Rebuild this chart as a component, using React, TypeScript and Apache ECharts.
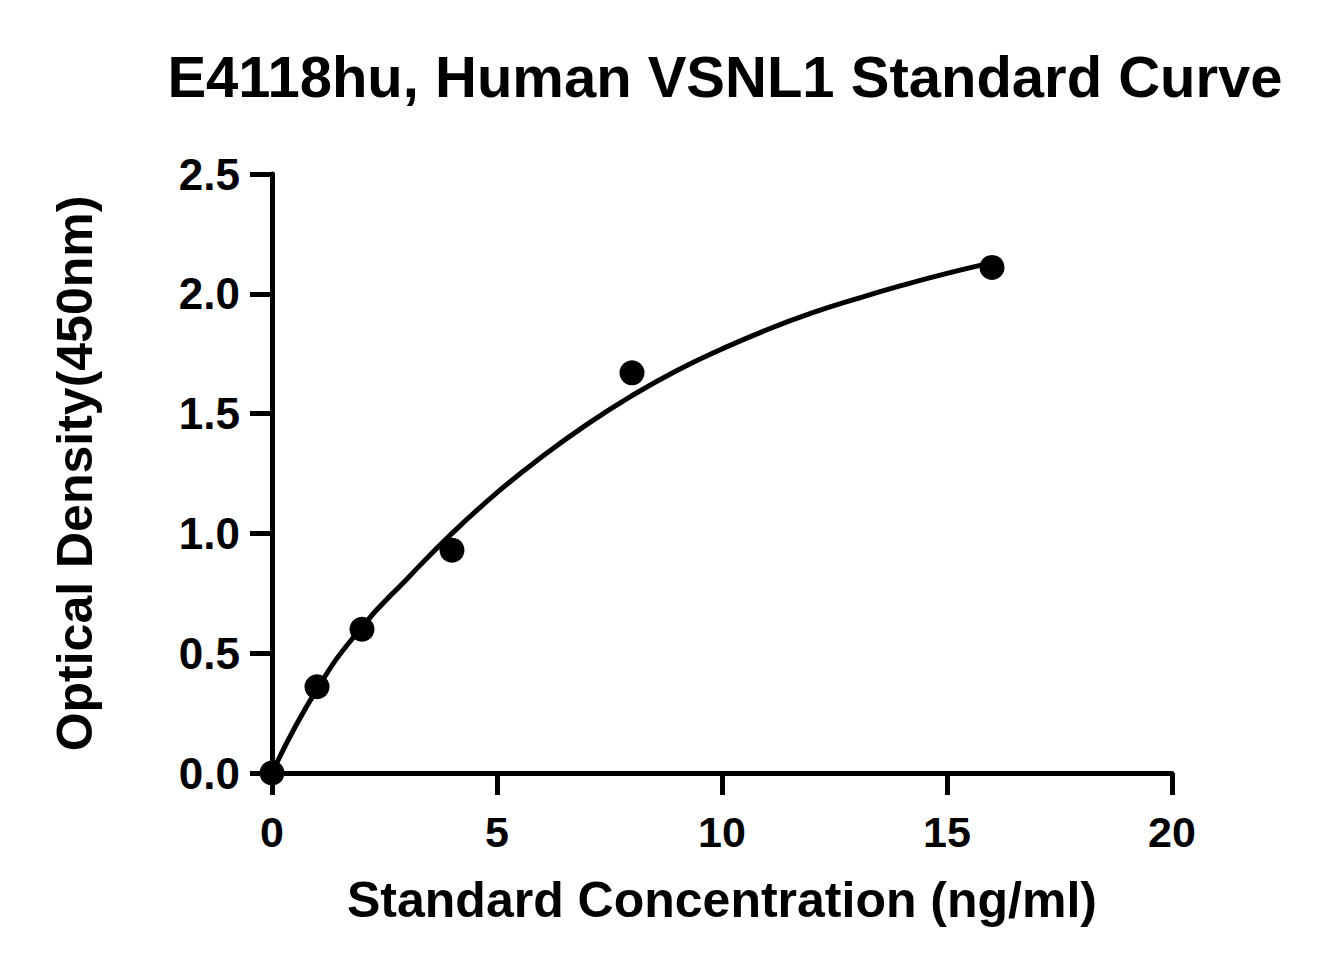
import React, { useEffect, useRef } from "react";
import * as echarts from "echarts";

// measured standards (ng/ml -> OD450)
const concentrations = [0, 1, 2, 4, 8, 16];
const odValues = [0.0, 0.36, 0.6, 0.93, 1.67, 2.11];

// fitted curve
const curveX = [0, 1, 2, 3, 4, 5, 6, 7, 8, 9, 10, 11, 12, 13, 14, 15, 16];
const curveY = [0, 0.35, 0.61, 0.81, 1.0, 1.17, 1.32, 1.455, 1.575, 1.68, 1.77, 1.85, 1.92, 1.98, 2.035, 2.085, 2.13];

const xTicks = [0, 5, 10, 15, 20];
const yTicks = [0, 0.5, 1.0, 1.5, 2.0, 2.5];

const FONT = "'Liberation Sans', Arial, sans-serif";

const App: React.FC = () => {
  const chartRef = useRef<HTMLDivElement>(null);

  useEffect(() => {
    document.body.style.margin = "0";
    if (!chartRef.current) return;
    const chart = echarts.init(chartRef.current, null, { renderer: "svg" });

    const axisCommon = {
      axisLine: { show: true, lineStyle: { color: "#000", width: 5 } },
      axisTick: { show: true, length: 22, lineStyle: { color: "#000", width: 5 } },
      splitLine: { show: false },
      nameTextStyle: { color: "#000", fontSize: 50, fontWeight: "bold" as const, fontFamily: FONT },
    };

    const option = {
      animation: false,
      backgroundColor: "#fff",
      title: {
        text: "E4118hu, Human VSNL1 Standard Curve",
        left: 720,
        textAlign: "center",
        top: 42,
        textStyle: { color: "#000", fontSize: 58, fontWeight: "bold", fontFamily: FONT },
      },
      grid: { left: 272, right: 154, top: 174, bottom: 202, containLabel: false },
      xAxis: {
        type: "value",
        min: xTicks[0],
        max: xTicks[xTicks.length - 1],
        interval: 5,
        name: "Standard Concentration (ng/ml)",
        nameLocation: "middle",
        nameGap: 102,
        ...axisCommon,
        axisLabel: {
          color: "#000",
          fontSize: 43,
          fontWeight: "bold",
          fontFamily: FONT,
          margin: 37,
        },
      },
      yAxis: {
        type: "value",
        min: yTicks[0],
        max: yTicks[yTicks.length - 1],
        interval: 0.5,
        name: "Optical Density(450nm)",
        nameLocation: "middle",
        nameGap: 172,
        ...axisCommon,
        axisLabel: {
          color: "#000",
          fontSize: 44,
          fontWeight: "bold",
          fontFamily: FONT,
          margin: 32,
          formatter: (v: number) => v.toFixed(1),
        },
      },
      series: [
        {
          type: "line",
          data: curveX.map((x, i) => [x, curveY[i]]),
          smooth: 0.5,
          showSymbol: false,
          lineStyle: { color: "#000", width: 5 },
          z: 2,
        },
        {
          type: "scatter",
          data: concentrations.map((x, i) => [x, odValues[i]]),
          symbol: "circle",
          symbolSize: 25,
          itemStyle: { color: "#000", opacity: 1 },
          z: 3,
        },
      ],
    };

    chart.setOption(option);
    return () => {
      chart.dispose();
    };
  }, []);

  return <div ref={chartRef} style={{ width: 1326, height: 975 }} />;
};

export default App;
